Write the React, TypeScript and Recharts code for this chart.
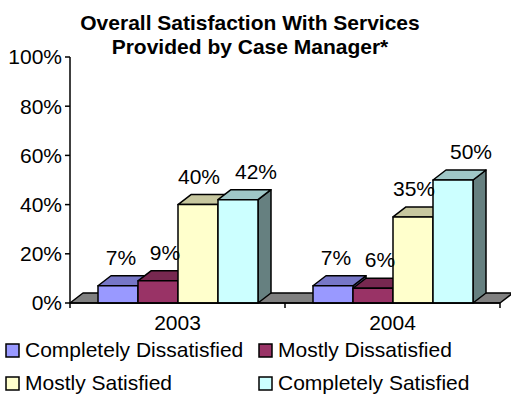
import React from 'react';
import { BarChart, Bar, XAxis, YAxis, ReferenceArea, LabelList } from 'recharts';

const years = ['2003', '2004'];
const completelyDissatisfied = [0.07, 0.07];
const mostlyDissatisfied = [0.09, 0.06];
const mostlySatisfied = [0.4, 0.35];
const completelySatisfied = [0.42, 0.5];
const yTicks = [0, 0.2, 0.4, 0.6, 0.8, 1];
const seriesNames = ['Completely Dissatisfied', 'Mostly Dissatisfied', 'Mostly Satisfied', 'Completely Satisfied'];
const seriesKeys = ['cd', 'md', 'ms', 'cs'];
const seriesColors = ['#9999FF', '#993366', '#FFFFCC', '#CCFFFF'];
const titleLines = ['Overall Satisfaction With Services', 'Provided by Case Manager*'];

const data = years.map((year, i) => ({
  year,
  cd: completelyDissatisfied[i],
  md: mostlyDissatisfied[i],
  ms: mostlySatisfied[i],
  cs: completelySatisfied[i],
}));

const FONT = '"Liberation Sans", Arial, sans-serif';
const DX = 13;
const DY = 10;
const LABEL_SHIFT = [3, 7, 1, 18];

function shade(hex: string, f: number) {
  const n = parseInt(hex.slice(1), 16);
  const r = Math.round(((n >> 16) & 255) * f);
  const g = Math.round(((n >> 8) & 255) * f);
  const b = Math.round((n & 255) * f);
  return `rgb(${r},${g},${b})`;
}

function make3DBar(color: string) {
  return (props: any) => {
    const { x, y, width: w, height: h } = props;
    if (x == null || y == null) return null;
    const top = `${x},${y} ${x + w},${y} ${x + w + DX},${y - DY} ${x + DX},${y - DY}`;
    const side = `${x + w},${y} ${x + w + DX},${y - DY} ${x + w + DX},${y + h - DY} ${x + w},${y + h}`;
    return (
      <g stroke="#000" strokeWidth={1.5} strokeLinejoin="round">
        <polygon points={side} fill={shade(color, 0.5)} />
        <polygon points={top} fill={shade(color, 0.78)} />
        <rect x={x} y={y} width={w} height={h} fill={color} />
      </g>
    );
  };
}

const Floor = (props: any) => {
  const { x, y, width: w, height: h } = props;
  const b = y + h;
  const pts = `${x},${b} ${x + w},${b} ${x + w + DX},${b - DY} ${x + DX},${b - DY}`;
  return <polygon points={pts} fill="#808080" stroke="#000" strokeWidth={1.5} strokeLinejoin="round" />;
};

const makeLabel = (shift: number) => (props: any) => {
  const { x, y, width, value } = props;
  return (
    <text
      x={x + width / 2 + shift}
      y={y - 21}
      textAnchor="middle"
      fontFamily={FONT}
      fontSize={21}
      fill="#000"
    >
      {`${Math.round(value * 100)}%`}
    </text>
  );
};

const XTick = (props: any) => {
  const { x, y, payload, index, visibleTicksCount } = props;
  const off = payload && payload.offset != null ? payload.offset : 107.5;
  const axisY = y - 5;
  return (
    <g>
      <line x1={x - off} y1={axisY} x2={x - off} y2={axisY + 5} stroke="#000" strokeWidth={1.5} />
      {index === (visibleTicksCount ?? years.length) - 1 && (
        <line x1={x + off} y1={axisY} x2={x + off} y2={axisY + 5} stroke="#000" strokeWidth={1.5} />
      )}
      <text x={x} y={axisY + 27} textAnchor="middle" fontFamily={FONT} fontSize={21} fill="#000">
        {payload.value}
      </text>
    </g>
  );
};

export default function App() {
  return (
    <div style={{ position: 'absolute', top: 0, left: 0, width: 511, height: 395, background: '#fff' }}>
      <BarChart
        width={511}
        height={395}
        data={data}
        margin={{ top: 57, right: 11, bottom: 62, left: 0 }}
        barGap={0}
        barCategoryGap={28}
      >
        <ReferenceArea y1={0} y2={0.04} shape={<Floor />} ifOverflow="visible" />
        <XAxis
          dataKey="year"
          height={30}
          axisLine={{ stroke: '#000', strokeWidth: 1.5 }}
          tickLine={false}
          tickSize={5}
          tickMargin={0}
          tick={<XTick />}
          interval={0}
        />
        <YAxis
          width={70}
          domain={[0, 1]}
          ticks={yTicks}
          interval={0}
          tickFormatter={(v: number) => `${Math.round(v * 100)}%`}
          axisLine={{ stroke: '#000', strokeWidth: 1.5 }}
          tickLine={{ stroke: '#000', strokeWidth: 1.5 }}
          tickSize={5}
          tickMargin={3}
          tick={{ fill: '#000', fontFamily: FONT, fontSize: 21 }}
        />
        {seriesKeys.map((k, i) => (
          <Bar key={k} dataKey={k} name={seriesNames[i]} fill={seriesColors[i]} shape={make3DBar(seriesColors[i])} isAnimationActive={false}>
            <LabelList dataKey={k} content={makeLabel(LABEL_SHIFT[i])} />
          </Bar>
        ))}
      </BarChart>
      <svg
        width={511}
        height={395}
        style={{ position: 'absolute', top: 0, left: 0, pointerEvents: 'none' }}
      >
        {titleLines.map((t, i) => (
          <text key={t} x={250} y={30 + i * 24} textAnchor="middle" fontFamily={FONT} fontWeight="bold" fontSize={21} fill="#000">
            {t}
          </text>
        ))}
        {seriesNames.map((n, i) => {
          const col = i % 2;
          const row = Math.floor(i / 2);
          const sx = col === 0 ? 6 : 259;
          const by = 357 + row * 33;
          return (
            <g key={n}>
              <rect x={sx} y={by - 13} width={13} height={13} fill={seriesColors[i]} stroke="#000" strokeWidth={1.5} />
              <text x={sx + 19} y={by} fontFamily={FONT} fontSize={21} fill="#000">
                {n}
              </text>
            </g>
          );
        })}
      </svg>
    </div>
  );
}
